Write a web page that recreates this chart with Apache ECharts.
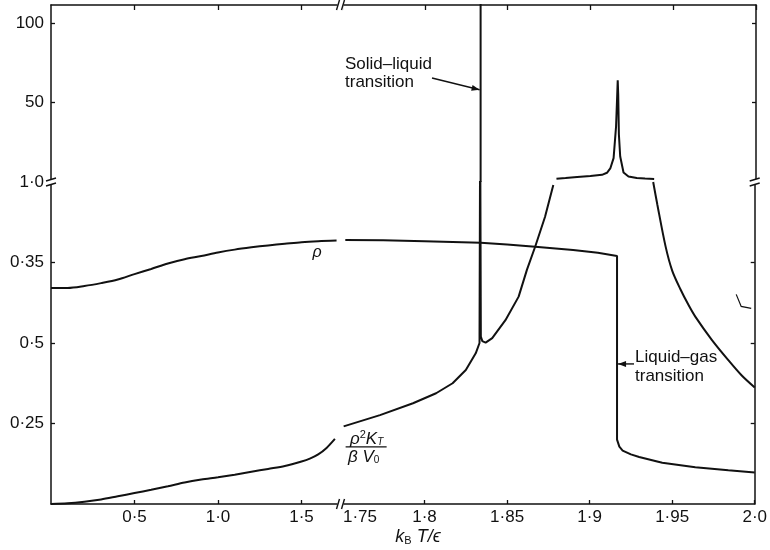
<!DOCTYPE html>
<html>
<head>
<meta charset="utf-8">
<script src="https://cdn.jsdelivr.net/npm/echarts@6/dist/echarts.min.js"></script>
<style>html,body{margin:0;padding:0;background:#fff}#main{width:770px;height:550px}</style>
</head>
<body>
<div id="main"></div>
<script>
// ---- tick values and labels ----
const xLeftTicks = [0.5, 1.0, 1.5];
const xLeftLabels = ['0·5', '1·0', '1·5'];
const xRightTicks = [1.75, 1.8, 1.85, 1.9, 1.95, 2.0];
const xRightLabels = ['1·75', '1·8', '1·85', '1·9', '1·95', '2·0'];
const yLowTicks = [0.25, 0.5, 0.75, 1.0];
const yLowLabels = ['0·25', '0·5', '0·35', '1·0'];
const yUpTicks = [50, 100];
const yUpLabels = ['50', '100'];

// ---- density rho ----
const rhoLeft = [[0,0.671],[0.1,0.671],[0.2,0.677],[0.3,0.686],[0.4,0.697],[0.5,0.714],[0.6,0.730],[0.7,0.747],[0.8,0.760],[0.9,0.770],[1.0,0.781],[1.1,0.790],[1.2,0.797],[1.3,0.803],[1.4,0.808],[1.5,0.813],[1.6,0.816],[1.71,0.818]];
const rhoRight = [[1.752,0.820],[1.775,0.819],[1.80,0.816],[1.834,0.811],[1.85,0.806],[1.867,0.799],[1.89,0.789],[1.905,0.780],[1.9166,0.770],[1.9166,0.20],[1.918,0.178],[1.920,0.166],[1.925,0.154],[1.930,0.146],[1.944,0.128],[1.964,0.114],[1.984,0.105],[2.0,0.098]];

// ---- reduced compressibility rho^2 K_T / (beta V0) ----
const ktLeft = [[0,0],[0.1,0.002],[0.2,0.007],[0.3,0.014],[0.4,0.024],[0.5,0.034],[0.6,0.044],[0.7,0.055],[0.8,0.067],[0.9,0.076],[1.0,0.083],[1.1,0.091],[1.2,0.100],[1.3,0.109],[1.4,0.118],[1.5,0.132],[1.55,0.141],[1.6,0.154],[1.65,0.174],[1.70,0.202]];
const ktRightLow = [[1.751,0.241],[1.773,0.276],[1.793,0.313],[1.807,0.344],[1.817,0.375],[1.825,0.416],[1.831,0.468],[1.8333,0.50],[1.8337,1.2],[1.8341,0.52],[1.835,0.506],[1.837,0.501],[1.841,0.515],[1.849,0.571],[1.857,0.644],[1.862,0.727],[1.867,0.799],[1.873,0.892],[1.878,0.991]];
const ktSpikeUp = [[1.8337,0],[1.8337,130]];
const ktPlateau = [[1.8795,2.0],[1.885,2.5],[1.892,3.2],[1.900,3.8],[1.907,4.5],[1.910,5.8],[1.912,8.5],[1.914,15],[1.9155,35],[1.9162,55],[1.9165,64],[1.9168,55],[1.9172,30],[1.918,16],[1.920,6],[1.923,3.5],[1.928,2.5],[1.933,2.2],[1.9385,1.9]];
const ktRightHigh = [[1.9385,1.0],[1.941,0.93],[1.946,0.80],[1.950,0.725],[1.955,0.667],[1.960,0.617],[1.964,0.582],[1.974,0.51],[1.984,0.447],[1.992,0.40],[2.0,0.362]];

const INK = '#111';
const FONT = 'Liberation Sans';

function lab(ticks, labels) {
  return function (v) {
    for (let i = 0; i < ticks.length; i++) if (Math.abs(ticks[i] - v) < 1e-6) return labels[i];
    return '';
  };
}

const axisLineStyle = { show: true, onZero: false, lineStyle: { color: INK, width: 1.5 } };
function tick(values, len) { return { show: true, inside: true, length: len || 4, customValues: values, lineStyle: { color: INK, width: 1.3 } }; }

const grids = [
  { left: 51, top: 182, width: 290, height: 322 },
  { left: 342, top: 182, width: 414, height: 322 },
  { left: 51, top: 5, width: 290, height: 177 },
  { left: 342, top: 5, width: 414, height: 177 }
];

const xL = { min: 0, max: 290 / 167 };
const xR = { min: 1.75, max: 2.0 };
const yLo = { min: 0, max: 1 };
const yUp = { min: 0, max: 111.3 };

function xAxis(grid, ext, ticks, labels, pos, showLabels) {
  return {
    type: 'value', gridIndex: grid, min: ext.min, max: ext.max, position: pos,
    axisLine: axisLineStyle, axisTick: tick(ticks, pos === 'top' ? 5 : 4), splitLine: { show: false },
    axisLabel: {
      show: showLabels, customValues: ticks, margin: 5, color: INK, fontFamily: FONT, fontSize: 17,
      formatter: function (v) {
        const t = lab(ticks, labels)(v);
        return Math.abs(v - 1.75) < 1e-6 ? '{o|' + t + '}' : t;
      },
      rich: { o: { padding: [0, 0, 0, 36], fontFamily: FONT, fontSize: 17, color: INK } }
    }
  };
}
function yAxis(grid, ext, ticks, labels, pos, showLabels) {
  return {
    type: 'value', gridIndex: grid, min: ext.min, max: ext.max, position: pos,
    axisLine: axisLineStyle, axisTick: tick(ticks, 4), splitLine: { show: false },
    axisLabel: { show: showLabels, customValues: ticks, margin: 7, color: INK, fontFamily: FONT, fontSize: 17, formatter: lab(ticks, labels) }
  };
}

function line(name, data, xi, yi, smooth) {
  return {
    name: name, type: 'line', data: data, xAxisIndex: xi, yAxisIndex: yi, showSymbol: false, symbol: 'none',
    smooth: smooth || false, clip: true, lineStyle: { color: INK, width: 2 }, silent: true
  };
}

const option = {
  animation: false,
  backgroundColor: '#fff',
  grid: grids,
  xAxis: [
    xAxis(0, xL, xLeftTicks, xLeftLabels, 'bottom', true),
    xAxis(1, xR, xRightTicks, xRightLabels, 'bottom', true),
    xAxis(2, xL, xLeftTicks, xLeftLabels, 'top', false),
    xAxis(3, xR, xRightTicks, xRightLabels, 'top', false)
  ],
  yAxis: [
    yAxis(0, yLo, yLowTicks, yLowLabels, 'left', true),
    yAxis(1, yLo, yLowTicks, yLowLabels, 'right', false),
    yAxis(2, yUp, yUpTicks, yUpLabels, 'left', true),
    yAxis(3, yUp, yUpTicks, yUpLabels, 'right', false)
  ],
  series: [
    line('rho', rhoLeft, 0, 0, 0.3),
    line('rho', rhoRight, 1, 1),
    line('kt', ktLeft, 0, 0, 0.3),
    line('kt', ktRightLow, 1, 1),
    line('kt', ktSpikeUp, 3, 3),
    line('kt', ktPlateau, 3, 3),
    line('kt', ktRightHigh, 1, 1, 0.3)
  ]
};

const chart = echarts.init(document.getElementById('main'), null, { renderer: 'canvas' });
chart.setOption(option);

const P = (g, v) => chart.convertToPixel({ gridIndex: g }, v);
const els = [];
const ls = { stroke: INK, lineWidth: 1.4 };

function breakV(x, y) { // break on a vertical axis
  els.push({ type: 'rect', shape: { x: x - 5, y: y - 3, width: 10, height: 6 }, style: { fill: '#fff' }, z: 50 });
  els.push({ type: 'line', shape: { x1: x - 5, y1: y - 1, x2: x + 5, y2: y - 4 }, style: ls, z: 51 });
  els.push({ type: 'line', shape: { x1: x - 5, y1: y + 4, x2: x + 5, y2: y + 1 }, style: ls, z: 51 });
}
function breakH(x, y) { // break on a horizontal axis
  els.push({ type: 'rect', shape: { x: x - 3, y: y - 5, width: 6, height: 10 }, style: { fill: '#fff' }, z: 50 });
  els.push({ type: 'line', shape: { x1: x - 4, y1: y + 5, x2: x - 1, y2: y - 5 }, style: ls, z: 51 });
  els.push({ type: 'line', shape: { x1: x + 1, y1: y + 5, x2: x + 4, y2: y - 5 }, style: ls, z: 51 });
}
function arrow(from, to) {
  els.push({ type: 'line', shape: { x1: from[0], y1: from[1], x2: to[0], y2: to[1] }, style: { stroke: INK, lineWidth: 1.4 }, z: 40 });
  const a = Math.atan2(to[1] - from[1], to[0] - from[0]);
  const L = 8, W = 3;
  const bx = to[0] - L * Math.cos(a), by = to[1] - L * Math.sin(a);
  els.push({ type: 'polygon', shape: { points: [to, [bx - W * Math.sin(a), by + W * Math.cos(a)], [bx + W * Math.sin(a), by - W * Math.cos(a)]] }, style: { fill: INK }, z: 41 });
}

const corner = P(0, [0, 1]);
breakV(corner[0], corner[1]);
const rcorner = P(1, [2.0, 1]);
breakV(rcorner[0], rcorner[1]);
const bBreak = P(1, [1.75, 0]);
breakH(bBreak[0] - 1.5, bBreak[1]);
const tBreak = P(3, [1.75, 111.3]);
breakH(tBreak[0] - 1.5, tBreak[1]);

// annotations
const slAnchor = P(3, [1.8337, 58]);
arrow([432, 78], [slAnchor[0] - 1, slAnchor[1]]);
els.push({ type: 'text', left: 345, top: 55, z: 60, style: { text: 'Solid–liquid\ntransition', font: '17px "' + FONT + '"', fill: INK, lineHeight: 18 } });

const lgAnchor = P(1, [1.9166, 0.435]);
arrow([634, lgAnchor[1]], [lgAnchor[0] + 1, lgAnchor[1]]);
els.push({ type: 'text', left: 635, top: 348, z: 60, style: { text: 'Liquid–gas\ntransition', font: '17px "' + FONT + '"', fill: INK, lineHeight: 19 } });

const rhoPos = P(0, [1.594, 0.78]);
els.push({ type: 'text', x: rhoPos[0], y: rhoPos[1], z: 60, style: { text: 'ρ', font: 'italic 16px "' + FONT + '"', fill: INK, align: 'center', verticalAlign: 'middle' } });

// rho^2 K_T / (beta V0) label
const ktPos = P(1, [1.7528, 0.176]);
els.push({ type: 'text', x: ktPos[0] + 20, y: ktPos[1] - 8, z: 60, style: {
  text: '{i|ρ}{sup|2}{i|K}{sub|T}', align: 'center', verticalAlign: 'middle',
  rich: { i: { font: 'italic 17px "' + FONT + '"', fill: INK }, sup: { font: '11px "' + FONT + '"', fill: INK, padding: [0, 0, 8, 0] }, sub: { font: 'italic 10px "' + FONT + '"', fill: INK, padding: [6, 0, 0, 0] } } } });
els.push({ type: 'line', shape: { x1: ktPos[0] - 1, y1: ktPos[1] - 0.5, x2: ktPos[0] + 40, y2: ktPos[1] - 0.5 }, style: { stroke: INK, lineWidth: 1.3 }, z: 60 });
els.push({ type: 'text', x: ktPos[0] + 17, y: ktPos[1] + 10, z: 60, style: {
  text: '{i|β V}{sub|0}', align: 'center', verticalAlign: 'middle',
  rich: { i: { font: 'italic 17px "' + FONT + '"', fill: INK }, sub: { font: '10px "' + FONT + '"', fill: INK, padding: [6, 0, 0, 0] } } } });

// axis title
els.push({ type: 'text', x: 418, y: 537, z: 60, style: {
  text: '{i|k}{sub|B}{i| T/ϵ}', align: 'center', verticalAlign: 'middle',
  rich: { i: { font: 'italic 18px "' + FONT + '"', fill: INK }, sub: { font: '11px "' + FONT + '"', fill: INK, padding: [7, 0, 0, 0] } } } });

// small stray mark near right border in the original figure
const sm = P(1, [1.99, 0.62]);
els.push({ type: 'polyline', shape: { points: [[sm[0] - 2, sm[1] - 10], [sm[0] + 3, sm[1] + 2], [sm[0] + 13, sm[1] + 4]] }, style: { stroke: INK, lineWidth: 1.2, fill: null }, z: 40 });

chart.setOption({ graphic: { elements: els } });
</script>
</body>
</html>
